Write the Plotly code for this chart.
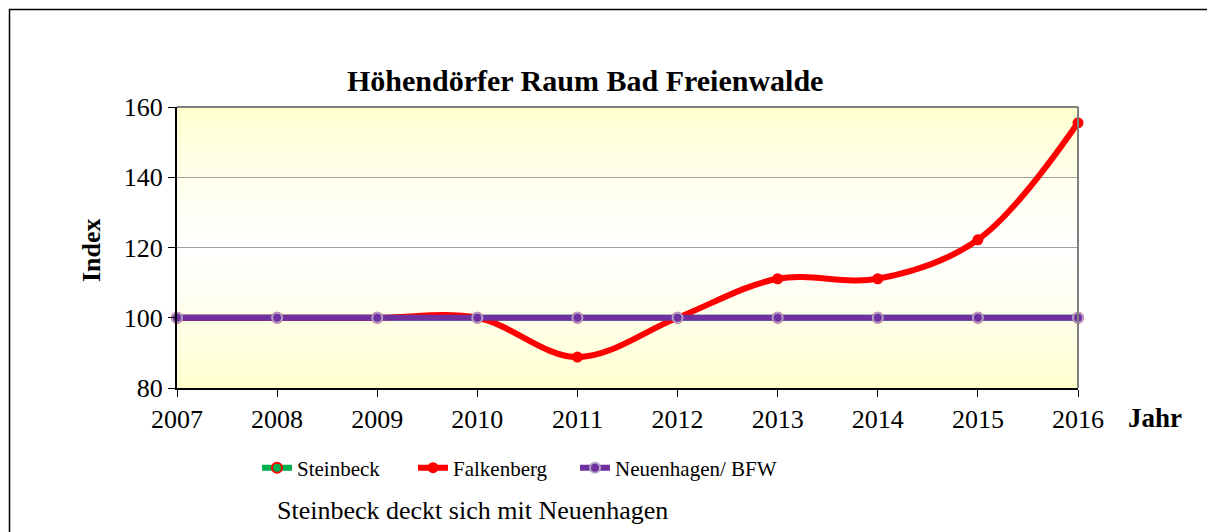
import plotly.graph_objects as go

years = [2007, 2008, 2009, 2010, 2011, 2012, 2013, 2014, 2015, 2016]
steinbeck = [100, 100, 100, 100, 100, 100, 100, 100, 100, 100]
falkenberg = [100, 100, 100, 100, 88.8, 100, 111.1, 111.1, 122.2, 155.5]
neuenhagen = [100, 100, 100, 100, 100, 100, 100, 100, 100, 100]

# page offset of the plot div (body margin)
OFF = 8
W, H = 1215 - OFF, 532 - OFF
L, R, T, B = 177, 1078, 107, 388   # plot area in page pixels
pw, ph = R - L, B - T

def px(x):
    return (x - L) / pw

def py(y):
    return (B - y) / ph

FONT = "Liberation Serif, Times New Roman, serif"

fig = go.Figure()
fig.add_trace(go.Scatter(
    x=years, y=steinbeck, name="Steinbeck", mode="lines+markers", legend="legend",
    line=dict(color="#00B050", width=6, shape="spline"),
    marker=dict(size=10, color="#00B050", line=dict(color="#FF0000", width=2)),
))
fig.add_trace(go.Scatter(
    x=years, y=falkenberg, name="Falkenberg", mode="lines+markers", legend="legend2",
    line=dict(color="#FF0000", width=6, shape="spline"),
    marker=dict(size=11, color="#FF0000"),
))
fig.add_trace(go.Scatter(
    x=years, y=neuenhagen, name="Neuenhagen/ BFW", mode="lines+markers", legend="legend3",
    line=dict(color="#7030A0", width=6, shape="spline"),
    marker=dict(size=10, color="#7030A0", line=dict(color="#B3A2C7", width=2)),
))

shapes = []
n = 60
for i in range(n):
    t = (i + 0.5) / n
    d = abs(t - 0.5) * 2
    r, g, b = 255, 255, int(255 - (255 - 204) * d ** 1.3)
    shapes.append(dict(type="rect", xref="x domain", yref="y domain",
                       x0=0, x1=1, y0=i / n, y1=(i + 1) / n,
                       fillcolor=f"rgb({r},{g},{b})", line=dict(width=0),
                       layer="below"))
shapes.append(dict(type="line", xref="paper", yref="paper", x0=0, x1=1, y0=1, y1=1,
                   line=dict(color="#808080", width=2)))
shapes.append(dict(type="line", xref="paper", yref="paper", x0=1, x1=1, y0=0, y1=1,
                   line=dict(color="#808080", width=2)))
shapes.append(dict(type="rect", xref="paper", yref="paper",
                   x0=px(9.5), x1=px(1213.5), y0=py(560), y1=py(9.5),
                   line=dict(color="#000000", width=1.5)))

def leg(xpix):
    return dict(orientation="h", x=px(xpix), y=py(468), yanchor="middle", xanchor="left",
                font=dict(size=21, family=FONT), itemwidth=30,
                bgcolor="rgba(0,0,0,0)")

fig.update_layout(
    width=W, height=H,
    margin=dict(l=L - OFF, r=W - (R - OFF), t=T - OFF, b=H - (B - OFF), pad=0),
    paper_bgcolor="white", plot_bgcolor="rgba(0,0,0,0)",
    font=dict(family=FONT, color="black", size=26),
    showlegend=True,
    legend=leg(257), legend2=leg(413), legend3=leg(575),
    shapes=shapes,
    annotations=[
        dict(text="<b>Höhendörfer Raum Bad Freienwalde</b>", xref="paper", yref="paper",
             x=px(585), y=py(80), xanchor="center", yanchor="middle", showarrow=False,
             font=dict(size=30, family=FONT)),
        dict(text="<b>Index</b>", xref="paper", yref="paper", x=px(91), y=py(250),
             xanchor="center", yanchor="middle",
             textangle=-90, showarrow=False, font=dict(size=26, family=FONT)),
        dict(text="<b>Jahr</b>", xref="paper", yref="paper", x=px(1155), y=py(418),
             xanchor="center", yanchor="middle",
             showarrow=False, font=dict(size=27, family=FONT)),
        dict(text="Steinbeck deckt sich mit Neuenhagen", xref="paper", yref="paper",
             x=px(275), y=py(510), xanchor="left", yanchor="middle", showarrow=False,
             font=dict(size=26, family=FONT)),
    ],
)
fig.update_xaxes(range=[2007, 2016], tickvals=years, ticks="outside", ticklen=7,
                 tickcolor="black", showline=True, linecolor="black", linewidth=2,
                 showgrid=False, zeroline=False, tickfont=dict(size=26), fixedrange=True)
fig.update_yaxes(range=[80, 160], tickvals=[80, 100, 120, 140, 160], ticks="outside",
                 ticklen=7, tickcolor="black", showline=True, linecolor="black",
                 linewidth=2, showgrid=True, gridcolor="#A0A0A0", gridwidth=1,
                 zeroline=False, tickfont=dict(size=26), fixedrange=True)
fig.update_traces(cliponaxis=False)

fig.write_html("out.html")
